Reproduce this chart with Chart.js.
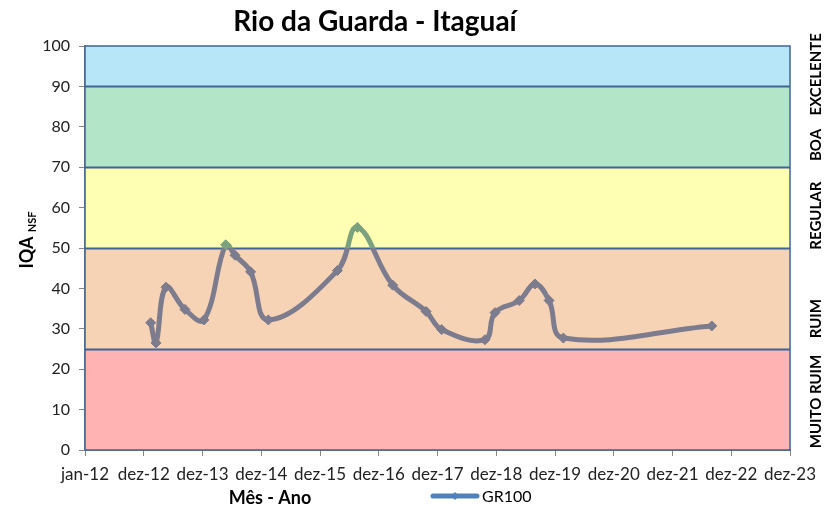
<!DOCTYPE html>
<html>
<head>
<meta charset="utf-8">
<script src="https://cdn.jsdelivr.net/npm/chart.js@4/dist/chart.umd.min.js"></script>
<style>
  body { margin: 0; background: #fff; }
</style>
</head>
<body>
<canvas id="chart" width="825" height="510"></canvas>
<script>
// dias desde 01/01/2012
const days = [408, 441, 503, 621, 739, 874, 932, 1029, 1139, 1568, 1692, 1912, 2119, 2216, 2485, 2547, 2698, 2796, 2883, 2972, 3894];
const iqa = [31.5, 26.5, 40.3, 34.8, 32.2, 50.8, 48.2, 44.1, 32.2, 44.4, 55.1, 40.8, 34.3, 29.8, 27.3, 34.0, 37.0, 41.1, 37.0, 27.7, 30.7];
const tickLabels = ['jan-12', 'dez-12', 'dez-13', 'dez-14', 'dez-15', 'dez-16', 'dez-17', 'dez-18', 'dez-19', 'dez-20', 'dez-21', 'dez-22', 'dez-23'];

const bandLimits = [0, 25, 50, 70, 90, 100];
const bandNames = ['MUITO RUIM', 'RUIM', 'REGULAR', 'BOA', 'EXCELENTE'];
const bandNamePos = [12, 32.5, 58, 75.5, 93];

const bandColors = ['#ffb3b3', '#f6d3b4', '#ffffb3', '#b3e6c8', '#b7e6f8'];
const gray = '#7c7c8e';
const green = '#7ca17e';
const FONT = 'Lato, "Liberation Sans", sans-serif';

const bandsPlugin = {
  id: 'bands',
  beforeDatasetsDraw(chart) {
    const { ctx, chartArea: a, scales: { y } } = chart;
    ctx.save();
    for (let i = 0; i < bandColors.length; i++) {
      const top = y.getPixelForValue(bandLimits[i + 1]);
      const bot = y.getPixelForValue(bandLimits[i]);
      ctx.fillStyle = bandColors[i];
      ctx.fillRect(a.left, top, a.right - a.left, bot - top);
    }
    ctx.strokeStyle = '#3e6496';
    ctx.lineWidth = 2;
    bandLimits.slice(1, -1).forEach(v => {
      const py = Math.round(y.getPixelForValue(v)) + 0.5;
      ctx.beginPath();
      ctx.moveTo(a.left, py);
      ctx.lineTo(a.right, py);
      ctx.stroke();
    });
    ctx.lineWidth = 1.5;
    ctx.strokeRect(a.left, a.top, a.right - a.left, a.bottom - a.top);
    ctx.restore();
  },
  afterDraw(chart) {
    const { ctx, scales: { y } } = chart;
    ctx.save();
    ctx.fillStyle = '#000';
    ctx.textAlign = 'center';
    ctx.textBaseline = 'middle';

    // titulo
    ctx.font = 'bold 28px ' + FONT;
    ctx.fillText('Rio da Guarda - Itaguaí', 375, 22);

    // classes a direita
    ctx.font = 'bold 15px ' + FONT;
    bandNames.forEach((name, i) => {
      ctx.save();
      ctx.translate(816, y.getPixelForValue(bandNamePos[i]));
      ctx.rotate(-Math.PI / 2);
      ctx.fillText(name, 0, 0);
      ctx.restore();
    });

    // titulo eixo y com subscrito
    ctx.save();
    ctx.translate(27, 240);
    ctx.rotate(-Math.PI / 2);
    ctx.textAlign = 'left';
    ctx.font = 'bold 18px ' + FONT;
    const w1 = ctx.measureText('IQA ').width;
    ctx.font = 'bold 11px ' + FONT;
    const w2 = ctx.measureText('NSF').width;
    const x0 = -(w1 + w2) / 2;
    ctx.font = 'bold 18px ' + FONT;
    ctx.fillText('IQA ', x0, 0);
    ctx.font = 'bold 11px ' + FONT;
    ctx.fillText('NSF', x0 + w1, 5);
    ctx.restore();

    // titulo eixo x
    ctx.font = 'bold 18px ' + FONT;
    ctx.fillText('Mês - Ano', 270, 498);

    // legenda
    ctx.strokeStyle = '#4f81bd';
    ctx.lineWidth = 5;
    ctx.lineCap = 'round';
    ctx.beginPath();
    ctx.moveTo(433, 496);
    ctx.lineTo(477, 496);
    ctx.stroke();
    ctx.fillStyle = '#4f81bd';
    ctx.beginPath();
    ctx.moveTo(455, 492); ctx.lineTo(459, 496); ctx.lineTo(455, 500); ctx.lineTo(451, 496);
    ctx.closePath();
    ctx.fill();
    ctx.fillStyle = '#000';
    ctx.textAlign = 'left';
    ctx.font = '16px ' + FONT;
    ctx.fillText(chart.data.datasets[0].label, 482, 497);
    ctx.restore();
  }
};

function lineColor(c) {
  const chart = c.chart;
  const a = chart.chartArea;
  if (!a) return gray;
  const y50 = chart.scales.y.getPixelForValue(50);
  const stop = (y50 - a.top) / (a.bottom - a.top);
  const g = chart.ctx.createLinearGradient(0, a.top, 0, a.bottom);
  g.addColorStop(0, green);
  g.addColorStop(stop, green);
  g.addColorStop(stop, gray);
  g.addColorStop(1, gray);
  return g;
}

const points = days.map((d, i) => ({ x: d, y: iqa[i] }));

new Chart(document.getElementById('chart'), {
  type: 'line',
  data: {
    datasets: [{
      label: 'GR100',
      data: points,
      borderColor: lineColor,
      borderWidth: 5,
      tension: 0.4,
      pointStyle: 'rectRot',
      pointRadius: 5,
      pointBackgroundColor: c => (c.raw && c.raw.y > 50 ? green : gray),
      pointBorderColor: c => (c.raw && c.raw.y > 50 ? green : gray),
      pointBorderWidth: 1
    }]
  },
  options: {
    responsive: false,
    animation: false,
    layout: { padding: { top: 46, right: 35, left: 0, bottom: 0 } },
    plugins: {
      legend: { display: false },
      tooltip: { enabled: false }
    },
    scales: {
      x: {
        type: 'linear',
        min: 0,
        max: 4380,
        afterBuildTicks: s => {
          s.ticks = tickLabels.map((_, i) => ({ value: i * 365 }));
        },
        afterFit: s => { s.height = 60; },
        grid: { drawOnChartArea: false, tickLength: 6, color: '#868686' },
        border: { color: '#868686', width: 2 },
        ticks: {
          autoSkip: false,
          maxRotation: 0,
          padding: 8,
          color: '#222',
          font: { family: FONT, size: 17 },
          callback: v => tickLabels[Math.round(v / 365)]
        }
      },
      y: {
        min: 0,
        max: 100,
        afterFit: s => { s.width = 85; },
        grid: { drawOnChartArea: false, tickLength: 6, color: '#868686' },
        border: { color: '#868686', width: 2 },
        ticks: {
          stepSize: 10,
          padding: 9,
          color: '#222',
          font: { family: FONT, size: 16 }
        }
      }
    }
  },
  plugins: [bandsPlugin]
});
</script>
</body>
</html>
